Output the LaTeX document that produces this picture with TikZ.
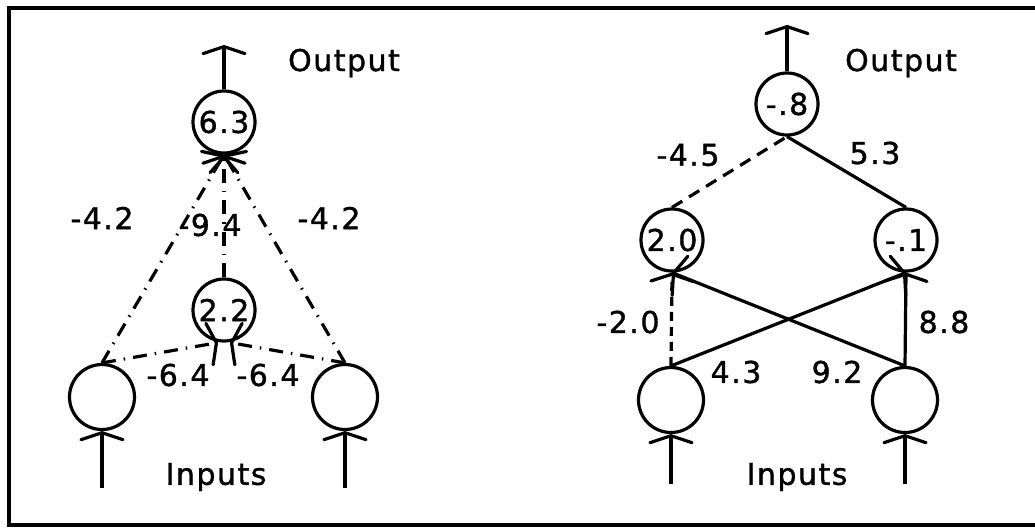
\documentclass[tikz,border=0pt]{standalone}
\usepackage{fontspec}
\setmainfont{DejaVu Sans}[LetterSpace=5,FakeBold=1.2]
\usetikzlibrary{arrows.meta}
\begin{document}
\begin{tikzpicture}[x=1pt,y=-1pt,
  neuron/.style={circle,draw,line width=3.2pt,minimum size=62pt,inner sep=0pt,font=\fontsize{30}{32}\selectfont},
  lbl/.style={font=\fontsize{30}{32}\selectfont,inner sep=0pt},
  conn/.style={line width=3.2pt},
  tip/.style={-{Straight Barb[length=7pt,width=42pt,round]}},
  dashdot/.style={dash pattern=on 14pt off 8pt on 1.5pt off 8pt},
  dsh/.style={dash pattern=on 12pt off 8pt},
  shortdsh/.style={dash pattern=on 9pt off 6pt},
]
\useasboundingbox (0,0) rectangle (1035,531);
\draw[line width=3.5pt] (1035,8) -- (9,8) -- (9,525) -- (1035,525);

% ---------- left network ----------
\node[neuron] (o1) at (224,122) {6.3};
\node[neuron] (h1) at (224,310) {2.2};
\node[neuron,minimum size=65pt] (a1) at (102,397) {};
\node[neuron,minimum size=65pt] (b1) at (345,397) {};
\coordinate (o1top) at (224,45);
\coordinate (a1in) at (102,488);
\coordinate (b1in) at (345,488);
\draw[conn,tip] (o1.north) -- (o1top);
\draw[conn,tip] (a1in) -- (a1.south);
\draw[conn,tip] (b1in) -- (b1.south);
\draw[conn,tip,dashdot] (a1.north) -- (o1.south);
\draw[conn,tip,dashdot] (b1.north) -- (o1.south);
\draw[conn,tip,dashdot] (h1.north) -- (o1.south);
\draw[conn,tip,dashdot] (a1.north) -- ([xshift=-6pt]h1.south);
\draw[conn,tip,dashdot] (b1.north) -- ([xshift=6pt]h1.south);
\node[lbl] (w1) at (102,218) {-4.2};
\node[lbl] (w2) at (210,225) {-9.4};
\node[lbl] (w3) at (329,218) {-4.2};
\node[lbl] (w4) at (178,375) {-6.4};
\node[lbl] (w5) at (268,375) {-6.4};
\node[lbl] (out1) at (344,63) {Output};
\node[lbl] (inp1) at (216,477) {Inputs};

% ---------- right network ----------
\node[neuron] (o2) at (787,104) {-.8};
\node[neuron] (h2a) at (672,240) {2.0};
\node[neuron] (h2b) at (906,240) {-.1};
\node[neuron,minimum size=65pt] (a2) at (671,400) {};
\node[neuron,minimum size=65pt] (b2) at (905,400) {};
\coordinate (o2top) at (787,25);
\coordinate (a2in) at (671,484);
\coordinate (b2in) at (905,484);
\draw[conn,tip] (o2.north) -- (o2top);
\draw[conn,tip] (a2in) -- (a2.south);
\draw[conn,tip] (b2in) -- (b2.south);
\draw[conn,dsh] (h2a.north) -- (o2.south);
\draw[conn] (h2b.north) -- (o2.south);
\draw[conn,tip,shortdsh] (a2.north) -- (h2a.south);
\draw[conn,tip] (b2.north) -- (h2a.south);
\draw[conn,tip] (a2.north) -- (h2b.south);
\draw[conn,tip] (b2.north) -- (h2b.south);
\node[lbl] (v1) at (688,155) {-4.5};
\node[lbl] (v2) at (875,153) {5.3};
\node[lbl] (v3) at (628,322) {-2.0};
\node[lbl] (v4) at (944,322) {8.8};
\node[lbl] (v5) at (736,372) {4.3};
\node[lbl] (v6) at (837,372) {9.2};
\node[lbl] (out2) at (901,63) {Output};
\node[lbl] (inp2) at (797,477) {Inputs};
\end{tikzpicture}
\end{document}
